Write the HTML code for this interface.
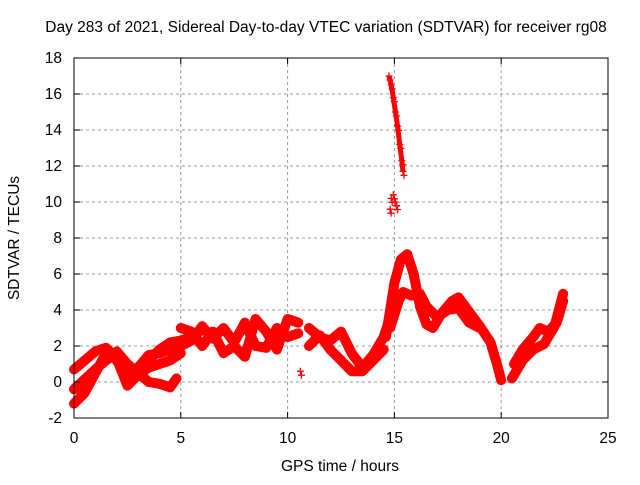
<!DOCTYPE html>
<html><head><meta charset="utf-8"><style>
body{margin:0;background:#fff}
svg text{font-family:"Liberation Sans",sans-serif;font-size:15.5px;fill:#000}
</style></head><body>
<svg width="640" height="480" xmlns="http://www.w3.org/2000/svg">
<g id="grid"></g>
<g id="marks"></g>
<rect x="74" y="58" width="534" height="360" fill="none" stroke="#000" stroke-width="1"/>
<g id="ticks"></g>
<text x="326" y="32" text-anchor="middle">Day 283 of 2021, Sidereal Day-to-day VTEC variation (SDTVAR) for receiver rg08</text>
<text x="340" y="471" text-anchor="middle">GPS time / hours</text>
<text x="19" y="238" text-anchor="middle" transform="rotate(-90 19 238)">SDTVAR / TECUs</text>
</svg>
<script>
const xTicks=[0,5,10,15,20,25];
const yTicks=[-2,0,2,4,6,8,10,12,14,16,18];
const trackA=[[0,-1.2],[0.5,-0.6],[1,0.5],[1.5,1.6],[2,1.2],[2.5,0.3],[3,0.8],[3.5,1.5],[4,1.6],[4.5,1.8],[5,2.2]];
const trackB=[[0,0.7],[0.5,1.2],[1,1.7],[1.5,1.9],[2,1.3],[2.5,-0.2],[3,0.4],[3.5,0.8],[4,1.0],[4.5,1.2],[5,1.6]];
const trackC=[[0,-0.4],[1,0.7],[2,1.7],[2.5,1.0],[3,0.5],[3.5,0],[4,-0.1],[4.5,-0.3],[4.8,0.2]];
const trackD=[[3,0.6],[3.5,1.2],[4,1.8],[4.5,2.2],[5,2.3],[5.5,2.5],[6,2.9]];
const trackE=[[5,3.0],[5.5,2.8],[6,2.0],[6.5,2.8],[7,1.6],[7.5,2.0],[8,1.4],[8.5,3.5],[9,2.8],[9.5,1.8],[10,3.5],[10.5,3.3]];
const trackF=[[5,2.0],[5.5,2.3],[6,3.1],[6.5,2.4],[7,3.0],[7.5,2.2],[8,3.3],[8.5,2.0],[9,1.9],[9.5,3.0],[10,2.5],[10.5,2.7]];
const trackG=[[11,3.0],[11.5,2.5],[12,2.3],[12.5,2.8],[13,1.6],[13.5,0.8],[14,1.5],[14.5,2.5],[14.8,3.6]];
const trackH=[[11,2.0],[11.5,2.6],[12,1.8],[12.5,1.2],[13,0.6],[13.5,0.6],[14,1.2],[14.5,1.8]];
const trackI=[[14.6,2.5],[15,5.5],[15.3,6.8],[15.6,7.1],[15.9,6],[16.2,4.2],[16.5,3.2],[16.8,3.0],[17.2,3.8],[17.7,4.5],[18,4.7],[18.5,3.9],[19,3.1],[19.5,2.2],[19.8,1.0],[20,0.1]];
const trackJ=[[14.8,3.0],[15.2,4.5],[15.4,5.0],[15.8,4.8],[16.2,4.9],[16.5,4.2],[17,3.6],[17.5,4.0],[18,4.1],[18.5,3.3],[19,3.0]];
const trackK=[[20.5,0.2],[21,1.2],[21.5,1.8],[22,2.1],[22.5,3.1],[22.9,4.9]];
const trackL=[[20.6,1.0],[21,1.8],[21.5,2.5],[21.8,3.0],[22.2,2.8],[22.6,3.3],[22.9,4.5]];
const spike=[[14.75,17.0],[14.85,16.5],[14.95,15.8],[15.05,15.0],[15.15,14.2],[15.25,13.2],[15.35,12.3],[15.4,11.7]];
const cluster=[[14.8,9.6],[14.85,10.2],[14.95,10.4],[15.05,10.0],[15.1,9.8]];
const isolated=[[10.6,0.6]];
const tracks=[trackA,trackB,trackC,trackD,trackE,trackF,trackG,trackH,trackI,trackJ,trackK,trackL];
const X=v=>74+v*534/25, Y=v=>418-(v+2)*18;
const NS="http://www.w3.org/2000/svg";
const grid=document.getElementById('grid'),ticks=document.getElementById('ticks'),marks=document.getElementById('marks');
function mk(tag,p,parent){const e=document.createElementNS(NS,tag);for(const k in p)e.setAttribute(k,p[k]);parent.appendChild(e);return e;}
xTicks.forEach(t=>{
 if(t>0&&t<25){const g=mk('line',{x1:X(t),x2:X(t),y1:58,y2:418,stroke:'#999','stroke-dasharray':'3,3'},grid);
 
 }
 mk('line',{x1:X(t),x2:X(t),y1:418,y2:412,stroke:'#000'},ticks);
 mk('line',{x1:X(t),x2:X(t),y1:58,y2:64,stroke:'#000'},ticks);
 const l=mk('text',{x:X(t),y:443,'text-anchor':'middle'},ticks);l.textContent=t;
 
 
});
yTicks.forEach(t=>{
 if(t>-2&&t<18){const g=mk('line',{x1:74,x2:608,y1:Y(t),y2:Y(t),stroke:'#999','stroke-dasharray':'3,3'},grid);
 
 }
 mk('line',{x1:74,x2:80,y1:Y(t),y2:Y(t),stroke:'#000'},ticks);
 mk('line',{x1:608,x2:602,y1:Y(t),y2:Y(t),stroke:'#000'},ticks);
 const l=mk('text',{x:62,y:Y(t)+5,'text-anchor':'end'},ticks);l.textContent=t;
 
 
});
function plus(x,y){mk('path',{d:`M${x-3.5},${y}h7M${x},${y-3.5}v7`,stroke:'#f00','stroke-width':1.3},marks);}
tracks.forEach(tr=>{
 const pl=mk('polyline',{points:tr.map(p=>X(p[0])+','+Y(p[1])).join(' '),fill:'none',stroke:'#f00','stroke-width':10,'stroke-linejoin':'round','stroke-linecap':'round'},marks);
 
 
 tr.forEach(p=>plus(X(p[0]),Y(p[1])));
});
const sp=mk('polyline',{points:spike.map(p=>X(p[0])+','+Y(p[1])).join(' '),fill:'none',stroke:'#f00','stroke-width':5},marks);


spike.concat(cluster,isolated).forEach(p=>{plus(X(p[0]),Y(p[1]));plus(X(p[0])+1,Y(p[1])+4);});
</script>
</body></html>
